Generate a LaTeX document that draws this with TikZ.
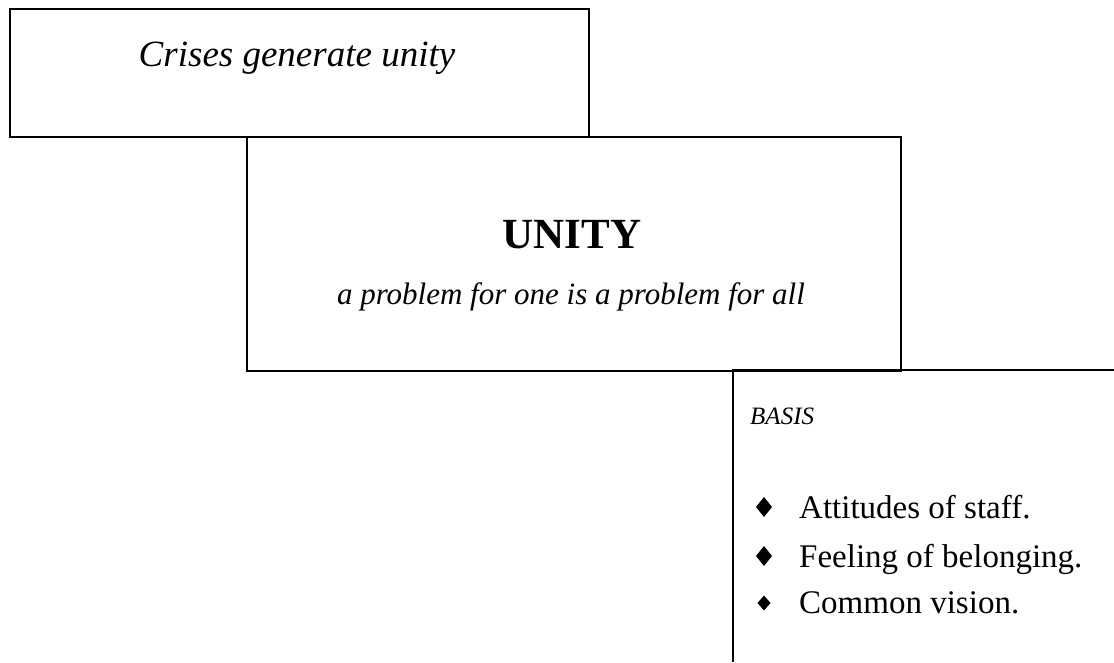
\documentclass[tikz,border=0pt]{standalone}
\usepackage{fontspec}
\setmainfont{Liberation Serif}[
  UprightFont={Liberation Serif},
  ItalicFont={Liberation Serif Italic},
  BoldFont={Liberation Serif Bold},
  BoldItalicFont={Liberation Serif Bold Italic}]
\begin{document}
\begin{tikzpicture}[x=1pt,y=-1pt,
  frame/.style={draw=black,line width=2pt},
  itemtext/.style={anchor=base west,inner sep=0pt,font=\fontsize{33}{38}\selectfont},
  bul/.style={fill=black}]
\useasboundingbox (0,0) rectangle (1114,662);
\node[frame,minimum width=579pt,minimum height=128pt,anchor=north west,inner sep=0pt] (crisisbox) at (9,8) {};
\node[frame,minimum width=654pt,minimum height=234pt,anchor=north west,inner sep=0pt] (unitybox) at (246,136) {};
\draw[frame] (733,662) coordinate (bl) -- (733,370) coordinate (tl) -- (1114,370) coordinate (tr);
\node[anchor=base,inner sep=0pt,font=\fontsize{37}{40}\selectfont\itshape] (crises) at (297,66) {Crises generate unity};
\node[anchor=base,inner sep=0pt,font=\fontsize{43}{46}\selectfont\bfseries] (unity) at (572,248) {UNITY};
\node[anchor=base,inner sep=0pt,font=\fontsize{31}{36}\selectfont\itshape] (sub) at (571,304) {a problem for one is a problem for all};
\node[anchor=base west,inner sep=0pt,font=\fontsize{25}{28}\selectfont\itshape] (basis) at (750,424) {BASIS};
\node[itemtext] (i1) at (799,518) {Attitudes of staff.};
\node[itemtext] (i2) at (799,567) {Feeling of belonging.};
\node[itemtext] (i3) at (799,613) {Common vision.};
\fill[bul] (764,497) -- (772,507) -- (764,517) -- (756,507) -- cycle;
\fill[bul] (764,546) -- (772,556) -- (764,566) -- (756,556) -- cycle;
\fill[bul] (764,595.5) -- (770.5,603) -- (764,610.5) -- (757.5,603) -- cycle;
\end{tikzpicture}
\end{document}
